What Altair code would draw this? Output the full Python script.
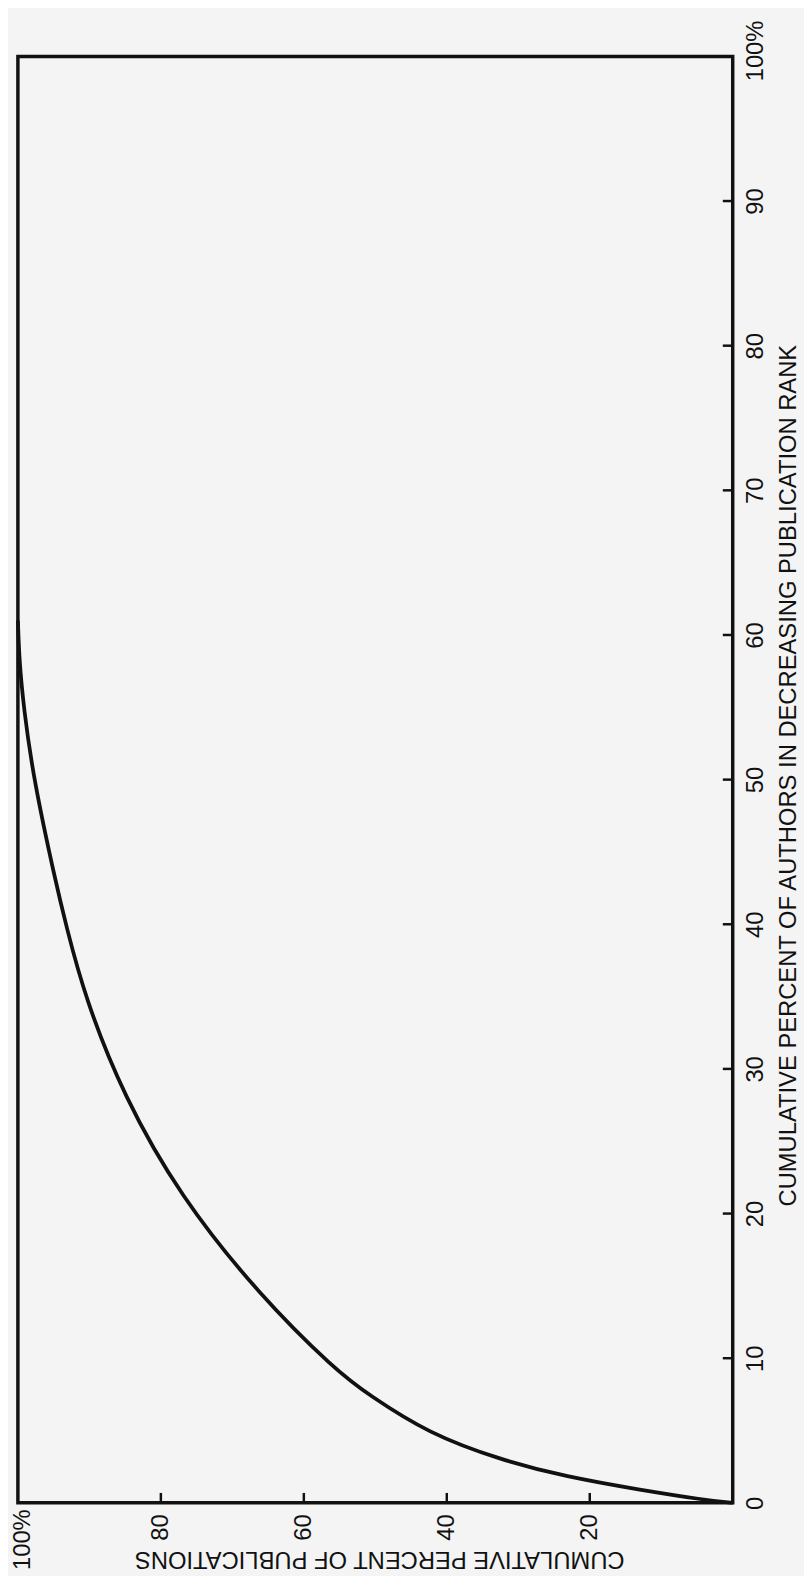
import altair as alt
import pandas as pd

# Curve: cumulative % of authors vs cumulative % of publications
authors = [0, 0.2, 0.9, 1.8, 2.96, 4.8, 7.5, 9.1, 14.4, 21.2, 28.1, 34.9, 40.0, 43.1, 50.0, 55.0, 58.2, 61.0]
pubs = [0, 4.0, 13.0, 23.3, 32.4, 42.6, 51.0, 55.4, 66.3, 77.3, 85.2, 90.6, 93.3, 94.8, 97.8, 99.2, 99.8, 100.0]

author_ticks = [10, 20, 30, 40, 50, 60, 70, 80, 90]
pub_ticks = [20, 40, 60, 80]
author_label_values = [0, 10, 20, 30, 40, 50, 60, 70, 80, 90, 100]
pub_label_values = [20, 40, 60, 80, 100]

W, H = 722, 1461
FONT = "Liberation Sans"
INK = "#111111"
FS = 24

curve = pd.DataFrame({"authors": authors, "pubs": pubs})
aticks = pd.DataFrame({"authors": author_ticks})
pticks = pd.DataFrame({"pubs": pub_ticks})

xscale = alt.Scale(domain=[0, 100], reverse=True, nice=False, zero=False)
yscale = alt.Scale(domain=[0, 100], nice=False, zero=False)

label_expr = "datum.value == 100 ? '100%' : datum.label"

x_axis = alt.Axis(
    orient="bottom",
    values=pub_label_values,
    labelExpr=label_expr,
    labelAngle=270,
    labelAlign="right",
    labelBaseline="middle",
    labelPadding={"condition": {"test": "datum.value == 100", "value": 6}, "value": 11},
    labelOffset={"condition": {"test": "datum.value == 100", "value": 5}, "value": 0},
    labelFontSize=FS,
    labelFont=FONT,
    labelColor=INK,
    labelOverlap=False,
    labelBound=False,
    labelFlush=False,
    ticks=False,
    domain=False,
    grid=False,
    title="CUMULATIVE PERCENT OF PUBLICATIONS",
    titleAngle=180,
    titleAlign="center",
    titleBaseline="alphabetic",
    titleX=365,
    titleY=49,
    titleFont=FONT,
    titleFontSize=FS,
    titleFontWeight="normal",
    titleColor=INK,
)

y_axis = alt.Axis(
    orient="right",
    values=author_label_values,
    labelExpr=label_expr,
    labelAngle=270,
    labelAlign="center",
    labelBaseline="top",
    labelPadding=11,
    labelOffset={"condition": {"test": "datum.value == 100", "value": -6}, "value": 0},
    labelFontSize=FS,
    labelFont=FONT,
    labelColor=INK,
    labelOverlap=False,
    labelBound=False,
    labelFlush=False,
    ticks=False,
    domain=False,
    grid=False,
    title="CUMULATIVE PERCENT OF AUTHORS IN DECREASING PUBLICATION RANK",
    titleAngle=270,
    titleAlign="center",
    titleBaseline="top",
    titleX=44,
    titleY=726,
    titleFont=FONT,
    titleFontSize=FS,
    titleFontWeight="normal",
    titleColor=INK,
)

line = alt.Chart(curve).mark_line(
    color=INK, strokeWidth=3.8, interpolate="basis"
).encode(
    x=alt.X("pubs:Q", scale=xscale, axis=x_axis),
    y=alt.Y("authors:Q", scale=yscale, axis=y_axis),
    order=alt.Order("authors:Q"),
)

right_ticks = alt.Chart(aticks).mark_rule(color=INK, strokeWidth=2.5).encode(
    y=alt.Y("authors:Q", scale=yscale),
    x=alt.value(W - 10),
    x2=alt.value(W),
)

bottom_ticks = alt.Chart(pticks).mark_rule(color=INK, strokeWidth=2.5).encode(
    x=alt.X("pubs:Q", scale=xscale),
    y=alt.value(H - 10),
    y2=alt.value(H),
)

chart = alt.layer(line, right_ticks, bottom_ticks).properties(
    width=W,
    height=H,
    autosize=alt.AutoSizeParams(type="none"),
    padding={"left": 10, "top": 41, "right": 72, "bottom": 66},
    background="#f4f4f4",
).configure_view(
    stroke=INK, strokeWidth=3.5
)

chart.save("out.html", embed_options={"renderer": "svg", "actions": False})
